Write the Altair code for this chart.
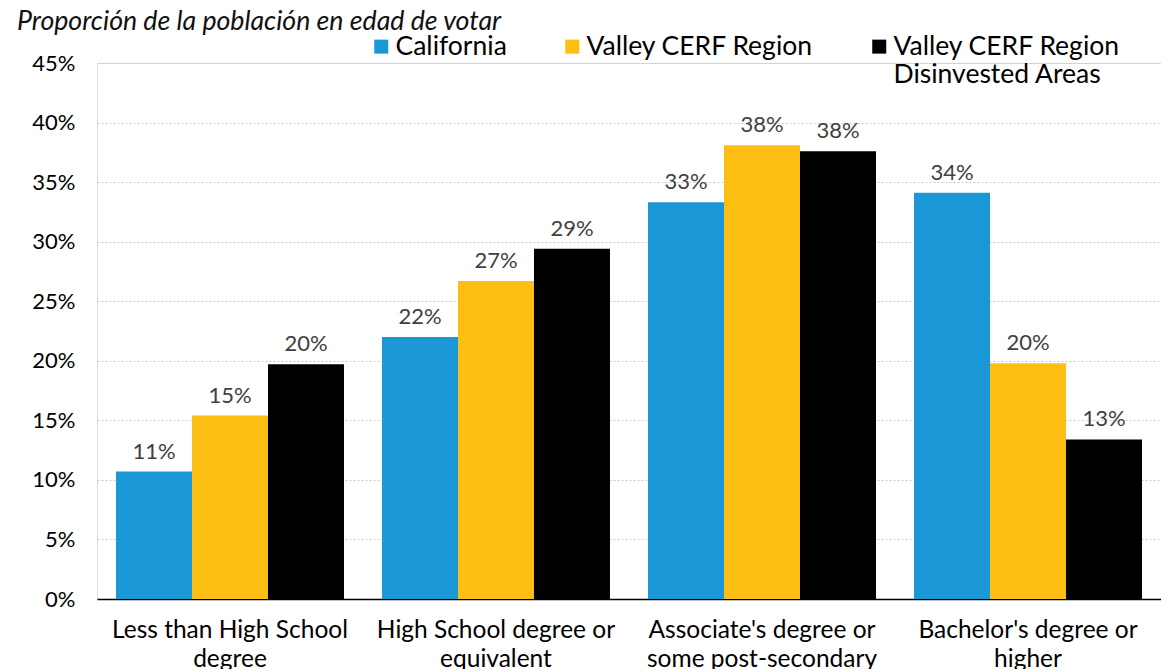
import altair as alt
import pandas as pd

# ---- data ----
categories = [
    "Less than High School degree",
    "High School degree or equivalent",
    "Associate's degree or some post-secondary",
    "Bachelor's degree or higher",
]
category_lines = [
    ["Less than High School", "degree"],
    ["High School degree or", "equivalent"],
    ["Associate's degree or", "some post-secondary"],
    ["Bachelor's degree or", "higher"],
]
series = ["California", "Valley CERF Region", "Valley CERF Region Disinvested Areas"]
series_lines = [
    ["California", ""],
    ["Valley CERF Region", ""],
    ["Valley CERF Region", "Disinvested Areas"],
]
california = [10.7, 22.0, 33.3, 34.1]
valley = [15.4, 26.7, 38.1, 19.8]
disinvested = [19.7, 29.4, 37.6, 13.4]
colors = ["#1A97D5", "#FDBE14", "#000000"]
y_ticks = [0, 0.05, 0.10, 0.15, 0.20, 0.25, 0.30, 0.35, 0.40, 0.45]
title_text = "Proporción de la población en edad de votar"

rows = []
for s, vals in zip(series, [california, valley, disinvested]):
    for c, v in zip(categories, vals):
        rows.append({"category": c, "series": s, "value": v / 100.0})
df = pd.DataFrame(rows)

FONT = "Lato"


def esc(t):
    return t.replace("'", "\\'")


def lines_expr(keys, lines_list):
    expr = ""
    for k, lines in zip(keys, lines_list):
        arr = "[" + ", ".join("'" + esc(l) + "'" for l in lines) + "]"
        expr += "datum.label == '" + esc(k) + "' ? " + arr + " : "
    return expr + "datum.label"


x_expr = lines_expr(categories, category_lines)
legend_expr = lines_expr(series, series_lines)

x_enc = alt.X(
    "category:N",
    sort=categories,
    scale=alt.Scale(paddingInner=0.1429, paddingOuter=0.0714),
    axis=alt.Axis(
        title=None,
        labelExpr=x_expr,
        labelAngle=0,
        labelFont=FONT,
        labelFontSize=24.5,
        labelColor="#000000",
        labelLineHeight=29,
        labelPadding=19,
        ticks=False,
        domain=True,
        domainColor="#000000",
        domainWidth=1.5,
        grid=False,
        labelLimit=400,
    ),
)

y_enc = alt.Y(
    "value:Q",
    scale=alt.Scale(domain=[0, 0.45], nice=False),
    axis=alt.Axis(
        title=None,
        values=y_ticks,
        format=".0%",
        labelFont=FONT,
        labelFontSize=22,
        labelColor="#000000",
        labelPadding=22,
        ticks=False,
        domain=False,
        grid=True,
        gridColor="#C8C8C8",
        gridDash=[2, 2],
        gridWidth=1,
    ),
)

color_enc = alt.Color(
    "series:N",
    sort=series,
    scale=alt.Scale(domain=series, range=colors),
    legend=alt.Legend(
        title=None,
        orient="none",
        legendX=271,
        legendY=-30,
        direction="horizontal",
        columns=3,
        columnPadding=52,
        symbolType="square",
        symbolSize=196,
        symbolStrokeWidth=0,
        labelFont=FONT,
        labelFontSize=26.5,
        labelColor="#000000",
        labelOffset=1,
        labelLimit=400,
        labelExpr=legend_expr,
        padding=0,
    ),
)

base = alt.Chart(df)

bars = base.mark_bar().encode(
    x=x_enc,
    xOffset=alt.XOffset("series:N", sort=series),
    y=y_enc,
    color=color_enc,
)

labels = base.mark_text(
    baseline="alphabetic",
    dy=-13,
    font=FONT,
    fontSize=22,
    color="#404040",
).encode(
    x=alt.X("category:N", sort=categories),
    xOffset=alt.XOffset("series:N", sort=series),
    y="value:Q",
    text=alt.Text("value:Q", format=".0%"),
)

title = alt.Chart(pd.DataFrame({"t": [title_text]})).mark_text(
    align="left",
    baseline="alphabetic",
    font=FONT,
    fontSize=26.7,
    fontStyle="italic",
    color="#111111",
).encode(
    x=alt.value(-80),
    y=alt.value(-33),
    text="t:N",
)

chart = (
    alt.layer(bars, labels, title)
    .properties(
        width=1064,
        height=536,
        autosize=alt.AutoSizeParams(type="none"),
        padding={"left": 89, "top": 55, "right": 0, "bottom": 70},
    )
    .configure_view(stroke=None)
    .configure(background="white")
)

chart.save("out.html", embed_options={"renderer": "svg", "actions": False})
